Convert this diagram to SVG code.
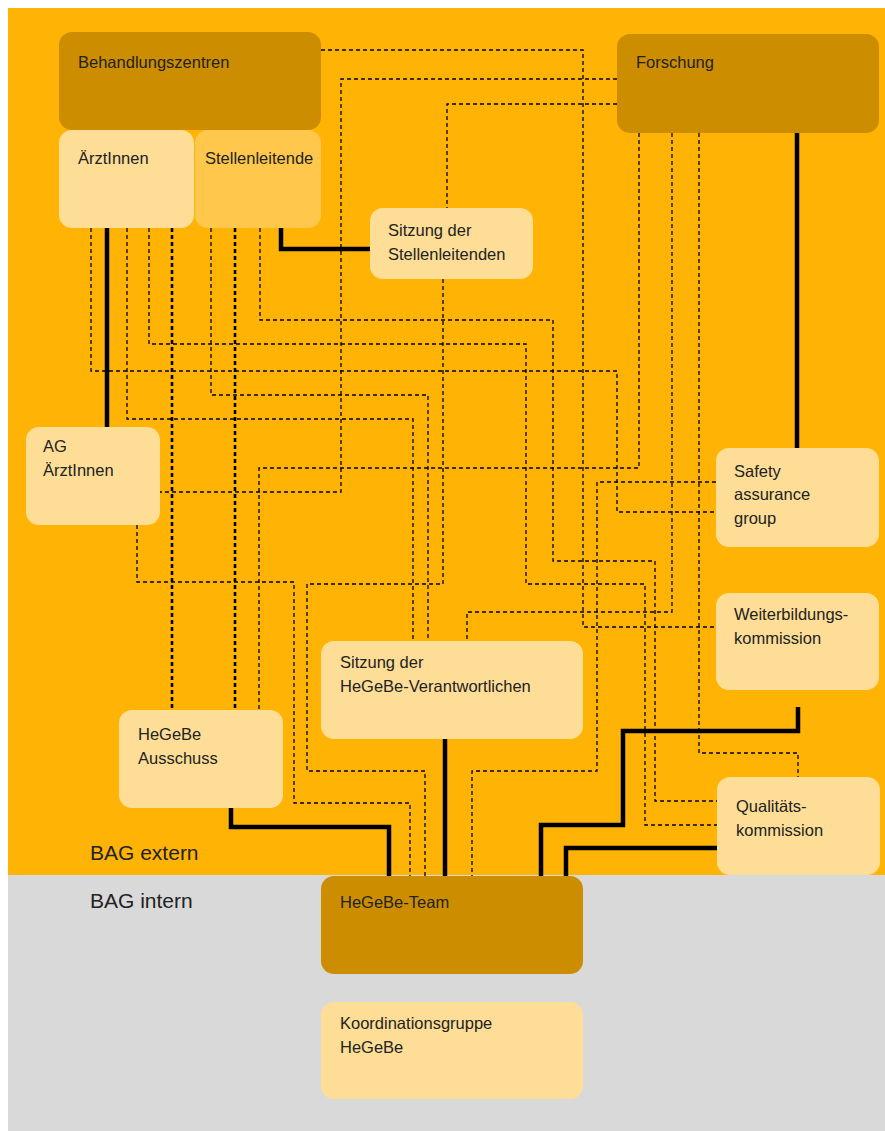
<svg xmlns="http://www.w3.org/2000/svg" width="885" height="1131" viewBox="0 0 885 1131">
<style>
.t{font-family:"Liberation Sans",Arial,sans-serif;font-size:16.5px;fill:#222}
.big{font-family:"Liberation Sans",Arial,sans-serif;font-size:21px;fill:#222}
.dark{fill:#CC8E00}
.light{fill:#FEDE97}
.mid{fill:#FFC84C}
.d{fill:none;stroke:#000;stroke-width:1.3;stroke-dasharray:4 3}
.dt{fill:none;stroke:#000;stroke-width:2.6;stroke-dasharray:4 3}
.s{fill:none;stroke:#000;stroke-width:4.5}
</style>
<rect x="0" y="0" width="885" height="1131" fill="#fff"/>
<rect x="8" y="8" width="877" height="867" fill="#FFB405"/>
<rect x="8" y="875" width="877" height="256" fill="#D9D9D9"/>
<text class="big" x="90" y="860">BAG extern</text>
<text class="big" x="90" y="908">BAG intern</text>
<g id="connectors">
<path class="d" d="M321 50H583V627H716"/>
<path class="d" d="M617 79H341V492H160"/>
<path class="d" d="M617 104H447V208"/>
<path class="d" d="M443 279V584H307V771H425V876"/>
<path class="d" d="M91 228V371H617V512H716"/>
<path class="d" d="M127 228V419H413V641"/>
<path class="d" d="M149 228V344H526V584H645V825H717"/>
<path class="dt" d="M172 228V710"/>
<path class="d" d="M211 228V395H428V641"/>
<path class="dt" d="M235 228V710"/>
<path class="d" d="M260 228V320H553V561H655V801H717"/>
<path class="d" d="M639 133V468H259V710"/>
<path class="d" d="M672 133V612H467V641"/>
<path class="d" d="M699 133V753H798V777"/>
<path class="d" d="M137 525V582H294V803H410V876"/>
<path class="d" d="M716 482H597V771H472V876"/>
<path class="s" d="M107 228V427"/>
<path class="s" d="M281 228V249H370"/>
<path class="s" d="M797 133V448"/>
<path class="s" d="M445 739V876"/>
<path class="s" d="M231 808V827H389V876"/>
<path class="s" d="M798 707V731H623V825H541V876"/>
<path class="s" d="M717 848H566V876"/>
</g>
<g id="behandlungszentren"><rect class="dark" x="59" y="32" width="262" height="98" rx="13"/><text class="t" x="78" y="68">Behandlungszentren</text></g>
<g id="aerztinnen"><rect class="light" x="59" y="130" width="135" height="98" rx="13"/><text class="t" x="78" y="164">ÄrztInnen</text></g>
<g id="stellenleitende"><rect class="mid" x="195" y="130" width="126" height="98" rx="13"/><text class="t" x="205" y="164">Stellenleitende</text></g>
<g id="forschung"><rect class="dark" x="617" y="34" width="262" height="99" rx="13"/><text class="t" x="636" y="68">Forschung</text></g>
<g id="sitzung-stellenleitenden"><rect class="light" x="370" y="208" width="163" height="71" rx="13"/><text class="t" x="388" y="236">Sitzung der</text><text class="t" x="388" y="260">Stellenleitenden</text></g>
<g id="ag-aerztinnen"><rect class="light" x="26" y="427" width="134" height="98" rx="13"/><text class="t" x="43" y="452">AG</text><text class="t" x="43" y="476">ÄrztInnen</text></g>
<g id="safety"><rect class="light" x="716" y="448" width="163" height="99" rx="13"/><text class="t" x="734" y="477">Safety</text><text class="t" x="734" y="500">assurance</text><text class="t" x="734" y="524">group</text></g>
<g id="weiterbildung"><rect class="light" x="716" y="593" width="163" height="97" rx="13"/><text class="t" x="734" y="620">Weiterbildungs-</text><text class="t" x="734" y="644">kommission</text></g>
<g id="sitzung-hegebe"><rect class="light" x="321" y="641" width="262" height="98" rx="13"/><text class="t" x="340" y="668">Sitzung der</text><text class="t" x="340" y="692">HeGeBe-Verantwortlichen</text></g>
<g id="hegebe-ausschuss"><rect class="light" x="119" y="710" width="164" height="98" rx="13"/><text class="t" x="138" y="740">HeGeBe</text><text class="t" x="138" y="764">Ausschuss</text></g>
<g id="qualitaet"><rect class="light" x="717" y="777" width="163" height="98" rx="13"/><text class="t" x="736" y="812">Qualitäts-</text><text class="t" x="736" y="836">kommission</text></g>
<g id="hegebe-team"><rect class="dark" x="321" y="876" width="262" height="98" rx="13"/><text class="t" x="340" y="908">HeGeBe-Team</text></g>
<g id="koordinationsgruppe"><rect class="light" x="321" y="1002" width="262" height="97" rx="13"/><text class="t" x="340" y="1029">Koordinationsgruppe</text><text class="t" x="340" y="1053">HeGeBe</text></g>
</svg>
